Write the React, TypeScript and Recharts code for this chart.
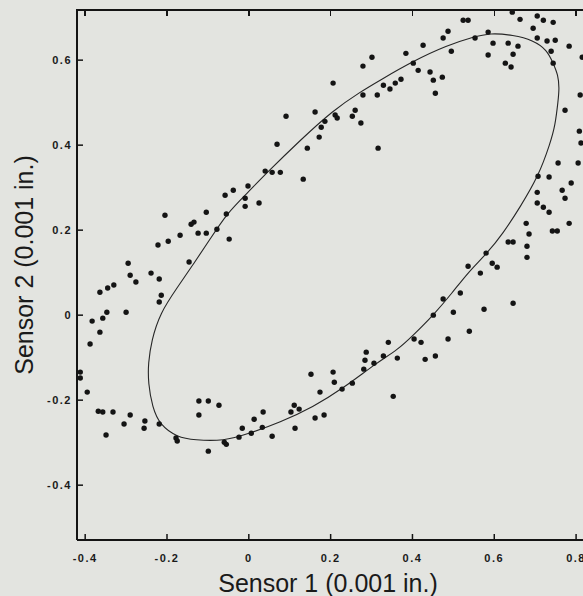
import React from "react";
import { ScatterChart, Scatter, XAxis, YAxis } from "recharts";

// Sensor readings (0.001 in.)
const sensor1 = [
  -0.364, -0.345, -0.33, -0.383, -0.347, -0.357, -0.3, -0.364, -0.388, -0.295,
  -0.29, -0.276, -0.239, -0.219, -0.214, -0.219, -0.222, -0.197, -0.205, -0.168,
  -0.141, -0.134, -0.124, -0.104, -0.104, -0.078, -0.048, -0.146, -0.058, -0.038,
  -0.009, -0.009, -0.002, 0.025, -0.055, 0.069, 0.091, 0.04, 0.057, 0.077,
  0.133, 0.143, 0.162, 0.186, 0.211, 0.216, 0.177, 0.172, 0.206, 0.279,
  0.279, 0.314, 0.26, 0.253, 0.274, 0.316, 0.301, 0.329, 0.345, 0.358,
  0.372, 0.384, 0.402, 0.414, 0.426, 0.443, 0.473, 0.451, 0.456, 0.475,
  0.487, 0.495, 0.524, 0.536, 0.553, 0.585, 0.597, 0.585, 0.634, 0.658,
  0.646, 0.627, 0.641, 0.644, 0.663, 0.705, 0.72, 0.744, 0.695, 0.705,
  0.729, 0.749, 0.739, 0.783, 0.744, 0.815, 0.81, 0.773, 0.808, 0.812,
  0.756, 0.805, 0.707, 0.734, 0.788, 0.705, 0.766, 0.773, 0.705, 0.72,
  0.734, 0.783, 0.678, 0.685, 0.742, 0.754, 0.634, 0.646, 0.68, 0.68,
  0.58, 0.595, 0.607, 0.566, 0.536, 0.517, 0.475, 0.451, 0.5, 0.575,
  0.646, 0.487, 0.539, 0.404, 0.421, 0.431, 0.456, 0.341, 0.329, 0.363,
  0.353, 0.287, 0.284, 0.281, 0.306, 0.206, 0.209, 0.228, 0.253, 0.152,
  0.174, 0.162, 0.184, 0.111, 0.123, 0.103, 0.113, 0.035, 0.033, 0.057,
  0.013, 0.006, -0.016, -0.024, -0.06, -0.055, -0.099, -0.122, -0.099, -0.073,
  -0.122, -0.178, -0.175, -0.219, -0.254, -0.256, -0.29, -0.305, -0.349, -0.368,
  -0.357, -0.332, -0.395, -0.412, -0.412,
];

const sensor2 = [
  0.054, 0.064, 0.071, -0.014, 0.007, -0.007, 0.007, -0.04, -0.068, 0.122,
  0.094, 0.078, 0.099, 0.085, 0.047, 0.031, 0.165, 0.174, 0.235, 0.188,
  0.214, 0.219, 0.193, 0.193, 0.242, 0.202, 0.179, 0.125, 0.282, 0.294,
  0.275, 0.256, 0.304, 0.264, 0.238, 0.402, 0.468, 0.339, 0.336, 0.336,
  0.32, 0.393, 0.478, 0.456, 0.471, 0.464, 0.442, 0.419, 0.546, 0.586,
  0.518, 0.518, 0.482, 0.468, 0.452, 0.393, 0.607, 0.541, 0.532, 0.546,
  0.555, 0.616, 0.593, 0.576, 0.635, 0.572, 0.56, 0.553, 0.522, 0.652,
  0.668, 0.621, 0.694, 0.694, 0.652, 0.666, 0.64, 0.612, 0.64, 0.633,
  0.614, 0.593, 0.584, 0.713, 0.696, 0.704, 0.694, 0.689, 0.675, 0.652,
  0.645, 0.647, 0.621, 0.633, 0.593, 0.607, 0.518, 0.482, 0.433, 0.405,
  0.358, 0.358, 0.327, 0.325, 0.311, 0.289, 0.294, 0.275, 0.264, 0.254,
  0.242, 0.216, 0.216, 0.191, 0.198, 0.198, 0.172, 0.172, 0.162, 0.136,
  0.146, 0.122, 0.113, 0.099, 0.115, 0.052, 0.038, 0.0, 0.007, 0.014,
  0.028, -0.056, -0.038, -0.056, -0.064, -0.104, -0.096, -0.064, -0.096, -0.101,
  -0.191, -0.087, -0.106, -0.127, -0.113, -0.134, -0.158, -0.174, -0.16, -0.139,
  -0.181, -0.242, -0.235, -0.212, -0.221, -0.228, -0.266, -0.228, -0.264, -0.285,
  -0.245, -0.278, -0.266, -0.287, -0.299, -0.304, -0.32, -0.202, -0.202, -0.212,
  -0.235, -0.289, -0.296, -0.256, -0.249, -0.266, -0.235, -0.256, -0.282, -0.226,
  -0.228, -0.228, -0.181, -0.134, -0.148,
];

// fitted ellipse
const fitX = [
  0.759, 0.756, 0.744, 0.729, 0.695, 0.646, 0.59, 0.548, 0.485, 0.402,
  0.321, 0.272, 0.206, 0.126, 0.045, -0.004, -0.053, -0.094, -0.134, -0.175,
  -0.217, -0.238, -0.246, -0.246, -0.236, -0.217, -0.175, -0.133, -0.06, -0.004,
  0.077, 0.157, 0.231, 0.314, 0.363, 0.402, 0.451, 0.497, 0.536, 0.583,
  0.622, 0.663, 0.708, 0.737, 0.749, 0.756,
];
const fitY = [
  0.534, 0.565, 0.593, 0.624, 0.647, 0.659, 0.664, 0.654, 0.635, 0.598,
  0.553, 0.525, 0.482, 0.412, 0.336, 0.287, 0.24, 0.18, 0.122, 0.065,
  0.005, -0.06, -0.113, -0.16, -0.216, -0.259, -0.287, -0.294, -0.296, -0.28,
  -0.252, -0.216, -0.172, -0.111, -0.082, -0.047, 0.0, 0.052, 0.101, 0.146,
  0.193, 0.254, 0.327, 0.405, 0.447, 0.504,
];

const xTicks = [-0.4, -0.2, 0, 0.2, 0.4, 0.6, 0.8];
const yTicks = [-0.4, -0.2, 0, 0.2, 0.4, 0.6];

const X_DOMAIN = [-0.42, 0.834];
const Y_DOMAIN = [-0.529, 0.718];

const samples = sensor1.map((x, i) => ({ x, y: sensor2[i] }));
const ellipse = fitX.map((x, i) => ({ x, y: fitY[i] }));

// plot box inside the 590px-wide chart
const PLOT_LEFT = 77;
const PLOT_TOP = 10;
const PLOT_W = 513;

const INK = "#141414";
const tickFont = {
  fontFamily: "'Liberation Sans', Arial, sans-serif",
  fontSize: 11,
  fontWeight: 700,
  letterSpacing: 1.5,
  fill: "#1a1a1a",
};

const fmt = (v: number) => (v === 0 ? "0" : v.toFixed(1));

const BottomTick = (props: any) => {
  const { x, y, payload } = props;
  return (
    <g>
      <line x1={x} y1={y} x2={x} y2={y - 6} stroke={INK} strokeWidth={1.5} />
      <text x={x} y={y + 22} textAnchor="middle" {...tickFont}>
        {fmt(payload.value)}
      </text>
    </g>
  );
};

const LeftTick = (props: any) => {
  const { x, y, payload } = props;
  return (
    <g>
      <line x1={x} y1={y} x2={x + 6} y2={y} stroke={INK} strokeWidth={1.5} />
      <text x={x - 5} y={y + 4} textAnchor="end" {...tickFont}>
        {fmt(payload.value)}
      </text>
    </g>
  );
};

const titleFont = {
  fontFamily: "'Liberation Sans', Arial, sans-serif",
  fontSize: 25,
  fill: "#1a1a1a",
};

const Dot = (props: any) => {
  const { cx, cy } = props;
  return <circle cx={cx} cy={cy} r={2.7} fill={INK} />;
};

const NoDot = () => <g />;

const topTickLeft = (t: number) =>
  PLOT_LEFT + ((t - X_DOMAIN[0]) / (X_DOMAIN[1] - X_DOMAIN[0])) * PLOT_W;

export default function App() {
  return (
    <div
      style={{
        position: "absolute",
        left: 0,
        top: 0,
        width: 583,
        height: 596,
        overflow: "hidden",
        background: "#e3e4e0",
      }}
    >
      <ScatterChart width={590} height={596} margin={{ top: PLOT_TOP, right: 0, bottom: 0, left: 0 }}>
        <XAxis
          type="number"
          dataKey="x"
          domain={X_DOMAIN}
          allowDataOverflow
          ticks={xTicks}
          tickLine={false}
          tickSize={0}
          tickMargin={0}
          height={56}
          axisLine={{ stroke: INK, strokeWidth: 2 }}
          tick={<BottomTick />}
          interval={0}
          label={{
            content: () => (
              <text x={328} y={592} textAnchor="middle" {...titleFont}>
                Sensor 1 (0.001 in.)
              </text>
            ),
          }}
        />
        <YAxis
          type="number"
          dataKey="y"
          domain={Y_DOMAIN}
          allowDataOverflow
          ticks={yTicks}
          tickLine={false}
          tickSize={0}
          tickMargin={0}
          width={77}
          axisLine={{ stroke: INK, strokeWidth: 2 }}
          tick={<LeftTick />}
          interval={0}
          label={{
            content: () => (
              <text x={33} y={265} textAnchor="middle" transform="rotate(-90 33 265)" {...titleFont}>
                Sensor 2 (0.001 in.)
              </text>
            ),
          }}
        />
        <Scatter
          data={ellipse}
          line={{ stroke: "#262626", strokeWidth: 1.1 }}
          lineJointType="basisClosed"
          shape={<NoDot />}
          isAnimationActive={false}
        />
        <Scatter data={samples} shape={<Dot />} isAnimationActive={false} />
      </ScatterChart>

      {/* top frame line with its inward ticks */}
      <div
        style={{
          position: "absolute",
          left: PLOT_LEFT - 1,
          top: PLOT_TOP - 1,
          width: PLOT_W,
          height: 2,
          background: INK,
        }}
      />
      {xTicks.map((t) => (
        <div
          key={t}
          style={{
            position: "absolute",
            left: topTickLeft(t) - 0.75,
            top: PLOT_TOP,
            width: 1.5,
            height: 6,
            background: INK,
          }}
        />
      ))}
    </div>
  );
}
